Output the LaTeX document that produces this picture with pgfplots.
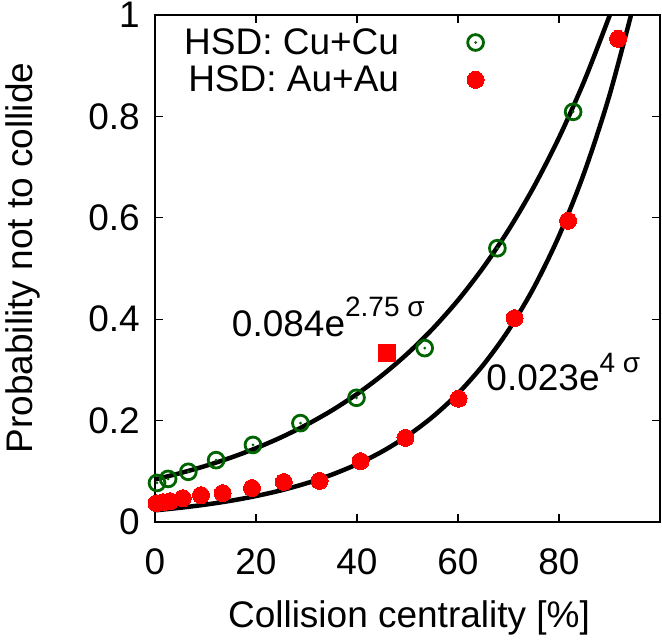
\documentclass[border=0pt]{standalone}
\usepackage{pgfplots}
\pgfplotsset{compat=1.18}
\usepackage{fontspec}
\setmainfont{Liberation Sans}
\definecolor{dkgreen}{RGB}{0,100,0}
\definecolor{gred}{RGB}{255,0,0}
\newcommand{\bigf}{\fontsize{37}{44}\selectfont}
\newcommand{\supf}{\fontsize{28}{32}\selectfont}
\pgfdeclareplotmark{circdot}{%
  \pgfpathcircle{\pgfpoint{0pt}{0pt}}{\pgfplotmarksize}\pgfusepathqstroke
  \pgfpathcircle{\pgfpoint{0pt}{0pt}}{1.5pt}\pgfusepathqfill}
\begin{document}
\begin{tikzpicture}
\begin{axis}[
  scale only axis, width=505pt, height=507pt,
  xmin=0, xmax=100, ymin=0, ymax=1,
  axis line style={line width=1.1pt},
  every tick/.style={line width=1.1pt, black},
  major tick length=8pt, tick align=inside,
  xtick={0,20,40,60,80}, ytick={0,0.2,0.4,0.6,0.8,1},
  /pgf/number format/assume math mode=true,
  tick label style={font=\bigf},
  xticklabel style={anchor=north, inner sep=0pt, yshift=-26pt},
  yticklabel style={anchor=east, inner sep=0pt, xshift=-15pt},
  xlabel={Collision centrality [\%]},
  ylabel={Probability not to collide},
  label style={font=\bigf},
  xlabel style={at={(axis description cs:0.503,-0.2071)}, anchor=base, inner sep=0pt},
  ylabel style={at={(axis description cs:-0.2416,0.5207)}, anchor=base, inner sep=0pt},
  legend plot pos=right,
  legend cell align=right,
  legend style={draw=none, fill=none, font=\bigf,
    at={(axis cs:65.8,0.981)}, anchor=north east,
    row sep=6pt, column sep=66pt},
]
% fit curves
\addplot[black, line width=4.5pt, smooth, forget plot] coordinates {
 (0,0.0840) (5,0.0964) (10,0.1106) (15,0.1269) (20,0.1456) (25,0.1671)
 (30,0.1917) (35,0.2199) (40,0.2524) (45,0.2896) (50,0.3322) (55,0.3812)
 (60,0.4374) (65,0.5019) (70,0.5759) (75,0.6607) (80,0.7581) (85,0.8699)
 (90,0.9981) (92,1.0545)};
\addplot[black, line width=4.5pt, smooth, forget plot] coordinates {
 (0,0.0230) (5,0.0281) (10,0.0343) (15,0.0419) (20,0.0512) (25,0.0625)
 (30,0.0764) (35,0.0933) (40,0.1139) (45,0.1391) (50,0.1700) (55,0.2076)
 (60,0.2535) (65,0.3097) (70,0.3782) (75,0.4620) (80,0.5643) (85,0.6892)
 (90,0.8418) (95,1.0281)};
% HSD Cu+Cu
\addplot[only marks, mark=circdot, mark size=7.9pt,
  mark options={draw=dkgreen, fill=dkgreen, line width=2.8pt}] coordinates {
 (0.4,0.077) (2.6,0.085) (6.6,0.099) (12.1,0.122) (19.4,0.152) (28.8,0.195)
 (39.9,0.245) (53.4,0.343) (67.8,0.540) (82.8,0.809)};
\addlegendentry{HSD: Cu+Cu}
% HSD Au+Au
\addplot[only marks, mark=*, mark size=8.5pt,
  mark options={draw=gred, fill=gred, line width=0pt}] coordinates {
 (0.3,0.037) (1.6,0.039) (3.0,0.041) (5.5,0.047) (9.1,0.053) (13.4,0.057)
 (19.2,0.067) (25.5,0.079) (32.6,0.081) (40.7,0.120) (49.6,0.166)
 (60.1,0.243) (71.2,0.402) (81.8,0.594) (91.7,0.953)};
\addlegendentry{HSD: Au+Au}
% extra point
\addplot[only marks, mark=square*, mark size=8.5pt,
  mark options={draw=gred, fill=gred, line width=0pt}, forget plot] coordinates {
 (46.0,0.333)};
\node[anchor=base west, font=\bigf, inner sep=0pt] at (axis cs:15.2,0.365)
  {0.084e\raisebox{20pt}{\supf 2.75 σ}};
\node[anchor=base west, font=\bigf, inner sep=0pt] at (axis cs:65.6,0.260)
  {0.023e\raisebox{18pt}{\supf 4 σ}};
\coordinate (sw) at (rel axis cs:0,0);
\end{axis}
\pgfresetboundingbox
\path (sw) ++(-155pt,-120pt) rectangle ++(662pt,642pt);
\end{tikzpicture}
\end{document}
